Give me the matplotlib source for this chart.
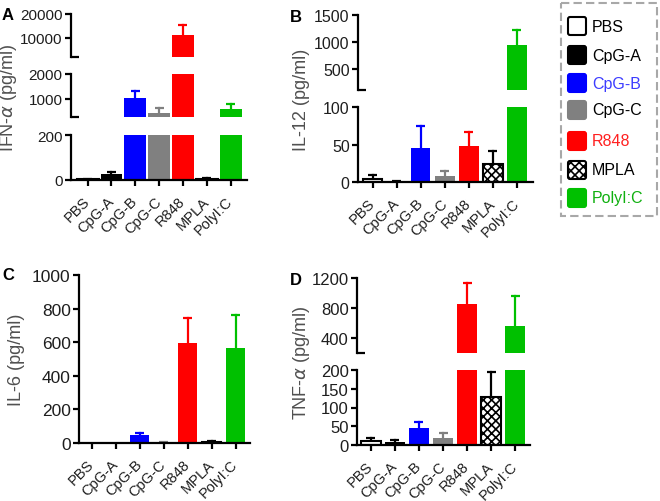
import matplotlib
matplotlib.use("Agg")
import matplotlib.pyplot as plt
from matplotlib.patches import Rectangle, FancyBboxPatch

plt.rcParams['font.family'] = ['Liberation Sans', 'DejaVu Sans']
plt.rcParams['hatch.linewidth'] = 1.2

# data (mean and upward SD)
categories = ["PBS", "CpG-A", "CpG-B", "CpG-C", "R848", "MPLA", "PolyI:C"]
ifna_mean = [3, 28, 1040, 400, 11070, 5, 560]
ifna_sd = [2, 8, 270, 200, 4100, 3, 200]
il12_mean = [4, 1, 46, 8, 48, 24, 945]
il12_sd = [6, 1, 29, 7, 19, 18, 275]
il6_mean = [0, 0, 45, 3, 595, 5, 565]
il6_sd = [0, 0, 15, 1, 150, 4, 195]
tnfa_mean = [10, 8, 45, 20, 860, 128, 563]
tnfa_sd = [8, 5, 16, 13, 268, 67, 400]

bar_colors = ['white', 'black', '#0000ff', '#808080', '#ff0000', 'white', '#00c000']
err_colors = ['black', 'black', '#0000ff', '#808080', '#ff0000', 'black', '#00c000']
hatches = [None, None, None, None, None, 'xxxx', None]
legend_text_colors = ['black', 'black', '#3c3cff', 'black', '#ff2020', 'black', '#10b010']

W, H = 660, 502
fig = plt.figure(figsize=(6.6, 5.02), dpi=100)

TXT = '#1e1e1e'


def seg_axes(x0, x1, ytop, ybot):
    return fig.add_axes([x0 / W, 1 - ybot / H, (x1 - x0) / W, (ybot - ytop) / H])


def draw_panel(letter, ylabel, means, sds, x0, x1, xlo, xhi, width, segs, lab_xy, let_xy, fs):
    xs = list(range(len(categories)))
    n = len(segs)
    cap = 4.5 * (xhi - xlo) / (x1 - x0)  # half cap width, ~4.5 px
    for k, (ytop, ybot, ylo, yhi, ticks) in enumerate(segs):
        ax = seg_axes(x0, x1, ytop, ybot)
        ax.set_xlim(xlo, xhi)
        ax.set_ylim(ylo, yhi)
        ax.patch.set_visible(False)
        base = 0 if k == n - 1 else ylo
        for i in xs:
            top = means[i] + sds[i]
            if means[i] > base:
                ec = 'black' if bar_colors[i] == 'white' else bar_colors[i]
                lw = 1.5 if bar_colors[i] == 'white' else 0
                ax.bar(xs[i], means[i] - base, bottom=base, width=width, color=bar_colors[i],
                       edgecolor=ec, linewidth=lw, hatch=hatches[i], zorder=2)
            if sds[i] > 0 and top > base:
                ax.plot([xs[i], xs[i]], [max(means[i], base), top], color=err_colors[i],
                        lw=1.6, zorder=1)
                ax.plot([xs[i] - cap, xs[i] + cap], [top, top], color=err_colors[i], lw=1.6,
                        zorder=1, solid_capstyle='butt')
        for s in ['top', 'right']:
            ax.spines[s].set_visible(False)
        ax.spines['left'].set_linewidth(1.6)
        ax.set_yticks(ticks)
        ax.set_yticklabels([str(t) for t in ticks])
        ax.tick_params(axis='y', direction='out', length=4.5, width=1.6, pad=1.5,
                       labelsize=fs, labelcolor=TXT)
        if k == n - 1:
            ax.spines['bottom'].set_linewidth(1.6)
            ax.set_xticks(xs)
            ax.set_xticklabels(categories, rotation=45, ha='right', va='center',
                               rotation_mode='anchor')
            ax.tick_params(axis='x', direction='out', length=4.5, width=1.6, pad=9,
                           labelsize=10.5, labelcolor=TXT)
        else:
            ax.spines['bottom'].set_visible(False)
            ax.set_xticks([])
            # break mark at the lower end of an upper segment
            ax.plot([0, 8 / (x1 - x0)], [0, 0], transform=ax.transAxes, color='black',
                    lw=1.6, clip_on=False, solid_capstyle='butt')
    fig.text(lab_xy[0] / W, 1 - lab_xy[1] / H, ylabel, rotation=90, ha='center', va='center',
             fontsize=13, color='#505050')
    fig.text(let_xy[0] / W, 1 - let_xy[1] / H, letter, ha='left', va='center',
             fontsize=12, fontweight='bold', color='black')


draw_panel('A', r'IFN-$\alpha$ (pg/ml)', ifna_mean, ifna_sd, 71, 247, -0.7, 6.69, 0.92,
           [(15, 57.7, 2000, 20000, [10000, 20000]),
            (75, 118, 250, 2000, [1000, 2000]),
            (136, 181, 0, 200, [0, 200])],
           (9, 98), (2, 16), 11)
draw_panel('B', 'IL-12 (pg/ml)', il12_mean, il12_sd, 358, 533, -0.62, 6.67, 0.8,
           [(16, 91, 100, 1500, [500, 1000, 1500]),
            (108, 183, 0, 100, [0, 50, 100])],
           (302, 100), (290, 17), 11.5)
draw_panel('C', 'IL-6 (pg/ml)', il6_mean, il6_sd, 79, 250, -0.54, 6.6, 0.8,
           [(276, 444, 0, 1000, [0, 200, 400, 600, 800, 1000])],
           (17, 360), (2, 276), 12.5)
draw_panel('D', r'TNF-$\alpha$ (pg/ml)', tnfa_mean, tnfa_sd, 357, 530, -0.58, 6.62, 0.8,
           [(279, 354, 200, 1200, [400, 800, 1200]),
            (371, 446, 0, 200, [0, 50, 100, 150, 200])],
           (302, 363), (290, 281), 12)

# legend box
lg = fig.add_axes([0, 0, 1, 1])
lg.set_xlim(0, W)
lg.set_ylim(H, 0)
lg.axis('off')
lg.add_patch(Rectangle((561, 4), 96, 213, fill=False, edgecolor='#a8a8a8', linewidth=1.5,
                       linestyle=(0, (4, 2))))
item_y = [27, 56, 84, 111, 142, 171, 199]
for i, name in enumerate(categories):
    y = item_y[i]
    ec = 'black' if bar_colors[i] == 'white' else bar_colors[i]
    lg.add_patch(FancyBboxPatch((568, y - 9), 18, 18, boxstyle='round,pad=0,rounding_size=2',
                                facecolor=bar_colors[i], edgecolor=ec, linewidth=1.5,
                                hatch=hatches[i]))
    lg.text(592, y, name, ha='left', va='center', fontsize=11.5, color=legend_text_colors[i])

fig.savefig('out.png', dpi=100)
